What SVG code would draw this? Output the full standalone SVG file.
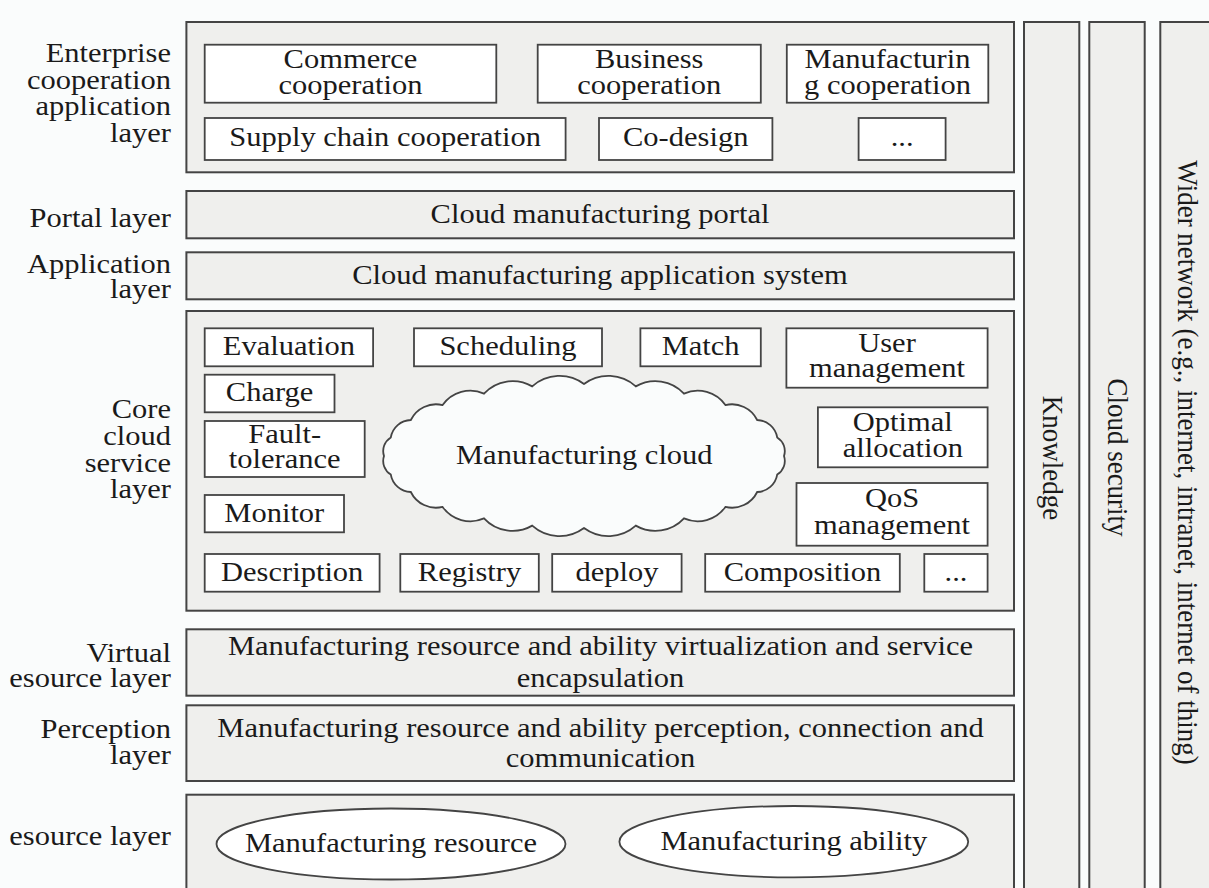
<svg xmlns="http://www.w3.org/2000/svg" width="1209" height="888" viewBox="0 0 1209 888">
<style>
.bg{fill:#fafcfc}
.layer{fill:#efefed;stroke:#444444;stroke-width:2}
.box{fill:#ffffff;stroke:#444444;stroke-width:1.8}
.t{font-family:"Liberation Serif","Times New Roman",serif;font-size:27px;fill:#1a1a1a;text-anchor:middle}
.l{text-anchor:end}
</style>
<rect class="bg" x="0" y="0" width="1209" height="888"/>

<!-- left labels -->
<g id="labels">
<text class="t l" transform="matrix(1.13 0 0 1 171 0)"><tspan x="0" y="62.5">Enterprise</tspan><tspan x="0" y="89">cooperation</tspan><tspan x="0" y="115.5">application</tspan><tspan x="0" y="142">layer</tspan></text>
<text class="t l" transform="matrix(1.13 0 0 1 171 0)" y="226.7">Portal layer</text>
<text class="t l" transform="matrix(1.13 0 0 1 171 0)"><tspan x="0" y="272.7">Application</tspan><tspan x="0" y="298.3">layer</tspan></text>
<text class="t l" transform="matrix(1.13 0 0 1 171 0)"><tspan x="0" y="418.3">Core</tspan><tspan x="0" y="445">cloud</tspan><tspan x="0" y="471.7">service</tspan><tspan x="0" y="498.3">layer</tspan></text>
<text class="t l" transform="matrix(1.13 0 0 1 171 0)"><tspan x="0" y="661.7">Virtual</tspan><tspan x="0" y="687.3">esource layer</tspan></text>
<text class="t l" transform="matrix(1.13 0 0 1 171 0)"><tspan x="0" y="738.3">Perception</tspan><tspan x="0" y="764">layer</tspan></text>
<text class="t l" transform="matrix(1.13 0 0 1 171 0)" y="845">esource layer</text>
</g>

<!-- enterprise cooperation application layer -->
<g id="enterprise-layer">
<rect class="layer" x="186.4" y="22" width="827.6" height="150.3"/>
</g>
<g id="commerce">
<rect class="box" x="204.7" y="44.7" width="291.6" height="58"/>
<text class="t" transform="matrix(1.13 0 0 1 350.5 0)"><tspan x="0" y="68.3">Commerce</tspan><tspan x="0" y="94.3">cooperation</tspan></text>
</g>
<g id="business">
<rect class="box" x="537.7" y="44.7" width="223.1" height="58"/>
<text class="t" transform="matrix(1.13 0 0 1 649.2 0)"><tspan x="0" y="68.3">Business</tspan><tspan x="0" y="94.3">cooperation</tspan></text>
</g>
<g id="manufacturing-coop">
<rect class="box" x="786.8" y="44.7" width="201.5" height="58"/>
<text class="t" transform="matrix(1.13 0 0 1 887.5 0)"><tspan x="0" y="68.3">Manufacturin</tspan><tspan x="0" y="94.3">g cooperation</tspan></text>
</g>
<g id="supply-chain">
<rect class="box" x="204.7" y="118" width="360.9" height="42"/>
<text class="t" transform="matrix(1.13 0 0 1 385.1 0)" y="146">Supply chain cooperation</text>
</g>
<g id="co-design">
<rect class="box" x="599" y="118" width="173.4" height="42"/>
<text class="t" transform="matrix(1.13 0 0 1 685.7 0)" y="146">Co-design</text>
</g>
<g id="etc1">
<rect class="box" x="858.6" y="118" width="87" height="42"/>
<text class="t" transform="matrix(1.13 0 0 1 902.1 0)" y="146">...</text>
</g>

<!-- portal -->
<g id="portal-layer">
<rect class="layer" x="186.4" y="191" width="827.6" height="47.3"/>
<text class="t" transform="matrix(1.13 0 0 1 600 0)" y="222.7">Cloud manufacturing portal</text>
</g>

<!-- application -->
<g id="application-layer">
<rect class="layer" x="186.4" y="252.3" width="827.6" height="47"/>
<text class="t" transform="matrix(1.13 0 0 1 600 0)" y="284">Cloud manufacturing application system</text>
</g>

<!-- core cloud service layer -->
<g id="core-layer">
<rect class="layer" x="186.4" y="311" width="827.6" height="299.7"/>
</g>
<g id="evaluation">
<rect class="box" x="204.7" y="328.3" width="168.4" height="38"/>
<text class="t" transform="matrix(1.13 0 0 1 288.9 0)" y="355">Evaluation</text>
</g>
<g id="scheduling">
<rect class="box" x="414" y="328.3" width="188" height="38"/>
<text class="t" transform="matrix(1.13 0 0 1 508 0)" y="355">Scheduling</text>
</g>
<g id="match">
<rect class="box" x="640.4" y="328.3" width="120.4" height="38"/>
<text class="t" transform="matrix(1.13 0 0 1 700.6 0)" y="355">Match</text>
</g>
<g id="user-management">
<rect class="box" x="786.4" y="328.3" width="201.2" height="59.4"/>
<text class="t" transform="matrix(1.13 0 0 1 887 0)"><tspan x="0" y="351.7">User</tspan><tspan x="0" y="377.3">management</tspan></text>
</g>
<g id="charge">
<rect class="box" x="204.7" y="374.7" width="129.8" height="37.6"/>
<text class="t" transform="matrix(1.13 0 0 1 269.6 0)" y="401">Charge</text>
</g>
<g id="fault-tolerance">
<rect class="box" x="204.7" y="421" width="160" height="56"/>
<text class="t" transform="matrix(1.13 0 0 1 284.7 0)"><tspan x="0" y="442.7">Fault-</tspan><tspan x="0" y="468.3">tolerance</tspan></text>
</g>
<g id="optimal-allocation">
<rect class="box" x="817.9" y="407.3" width="169.7" height="60"/>
<text class="t" transform="matrix(1.13 0 0 1 902.8 0)"><tspan x="0" y="430.7">Optimal</tspan><tspan x="0" y="457.3">allocation</tspan></text>
</g>
<g id="manufacturing-cloud">
<path fill="#fafcfc" stroke="#444444" stroke-width="1.8" d="M784,456 A16,16 0 0,1 777.2,474.6 A21,21 0 0,1 757.2,492 A28,28 0 0,1 725.4,506.9 A34,34 0 0,1 684,518.4 A39,39 0 0,1 635.8,525.6 A41,41 0 0,1 584,528 A41,41 0 0,1 532.2,525.6 A39,39 0 0,1 484,518.4 A34,34 0 0,1 442.6,506.9 A28,28 0 0,1 410.8,492 A21,21 0 0,1 390.8,474.6 A16,16 0 0,1 384,456 A16,16 0 0,1 390.8,437.4 A21,21 0 0,1 410.8,420 A28,28 0 0,1 442.6,405.1 A34,34 0 0,1 484,393.6 A39,39 0 0,1 532.2,386.4 A41,41 0 0,1 584,384 A41,41 0 0,1 635.8,386.4 A39,39 0 0,1 684,393.6 A34,34 0 0,1 725.4,405.1 A28,28 0 0,1 757.2,420 A21,21 0 0,1 777.2,437.4 A16,16 0 0,1 784,456 Z"/>
<text class="t" transform="matrix(1.13 0 0 1 584.3 0)" y="464.3">Manufacturing cloud</text>
</g>
<g id="monitor">
<rect class="box" x="204.7" y="495" width="139.3" height="37.3"/>
<text class="t" transform="matrix(1.13 0 0 1 274.3 0)" y="521.7">Monitor</text>
</g>
<g id="qos-management">
<rect class="box" x="796.5" y="483" width="191.1" height="62.7"/>
<text class="t" transform="matrix(1.13 0 0 1 892 0)"><tspan x="0" y="506.7">QoS</tspan><tspan x="0" y="534.3">management</tspan></text>
</g>
<g id="description">
<rect class="box" x="204.7" y="554" width="174.9" height="37.7"/>
<text class="t" transform="matrix(1.13 0 0 1 292.2 0)" y="580.7">Description</text>
</g>
<g id="registry">
<rect class="box" x="400.3" y="554" width="138.5" height="37.7"/>
<text class="t" transform="matrix(1.13 0 0 1 469.5 0)" y="580.7">Registry</text>
</g>
<g id="deploy">
<rect class="box" x="552.2" y="554" width="129.4" height="37.7"/>
<text class="t" transform="matrix(1.13 0 0 1 616.9 0)" y="580.7">deploy</text>
</g>
<g id="composition">
<rect class="box" x="705.2" y="554" width="194.6" height="37.7"/>
<text class="t" transform="matrix(1.13 0 0 1 802.5 0)" y="580.7">Composition</text>
</g>
<g id="etc2">
<rect class="box" x="924.3" y="554" width="63.3" height="37.7"/>
<text class="t" transform="matrix(1.13 0 0 1 956 0)" y="580.7">...</text>
</g>

<!-- virtual resource layer -->
<g id="virtual-layer">
<rect class="layer" x="186.4" y="629.3" width="827.6" height="66.4"/>
<text class="t" transform="matrix(1.13 0 0 1 600.5 0)"><tspan x="0" y="655">Manufacturing resource and ability virtualization and service</tspan><tspan x="0" y="687">encapsulation</tspan></text>
</g>

<!-- perception layer -->
<g id="perception-layer">
<rect class="layer" x="186.4" y="705.3" width="827.6" height="75.7"/>
<text class="t" transform="matrix(1.13 0 0 1 600.5 0)"><tspan x="0" y="736.7">Manufacturing resource and ability perception, connection and</tspan><tspan x="0" y="766.7">communication</tspan></text>
</g>

<!-- resource layer -->
<g id="resource-layer">
<rect class="layer" x="186.4" y="794.7" width="827.6" height="120"/>
</g>
<g id="manufacturing-resource">
<ellipse cx="391" cy="844" rx="174.5" ry="35.5" fill="#ffffff" stroke="#444444" stroke-width="1.8"/>
<text class="t" transform="matrix(1.13 0 0 1 391 0)" y="851.7">Manufacturing resource</text>
</g>
<g id="manufacturing-ability">
<ellipse cx="793.8" cy="841.7" rx="174.4" ry="35.7" fill="#ffffff" stroke="#444444" stroke-width="1.8"/>
<text class="t" transform="matrix(1.13 0 0 1 793.8 0)" y="850">Manufacturing ability</text>
</g>

<!-- vertical columns -->
<g id="knowledge">
<rect class="layer" x="1024" y="22" width="55.3" height="900"/>
<text class="t" transform="translate(1053 458) scale(1.13 1) rotate(90)" x="0" y="9">Knowledge</text>
</g>
<g id="cloud-security">
<rect class="layer" x="1089.3" y="22" width="55.4" height="900"/>
<text class="t" transform="translate(1118 457.5) scale(1.13 1) rotate(90)" x="0" y="9">Cloud security</text>
</g>
<g id="wider-network">
<rect class="layer" x="1160.3" y="22" width="100" height="900"/>
<text class="t" transform="translate(1188 462.5) scale(1.13 1) rotate(90)" x="0" y="9">Wider network (e.g., internet, intranet, internet of thing)</text>
</g>
</svg>
